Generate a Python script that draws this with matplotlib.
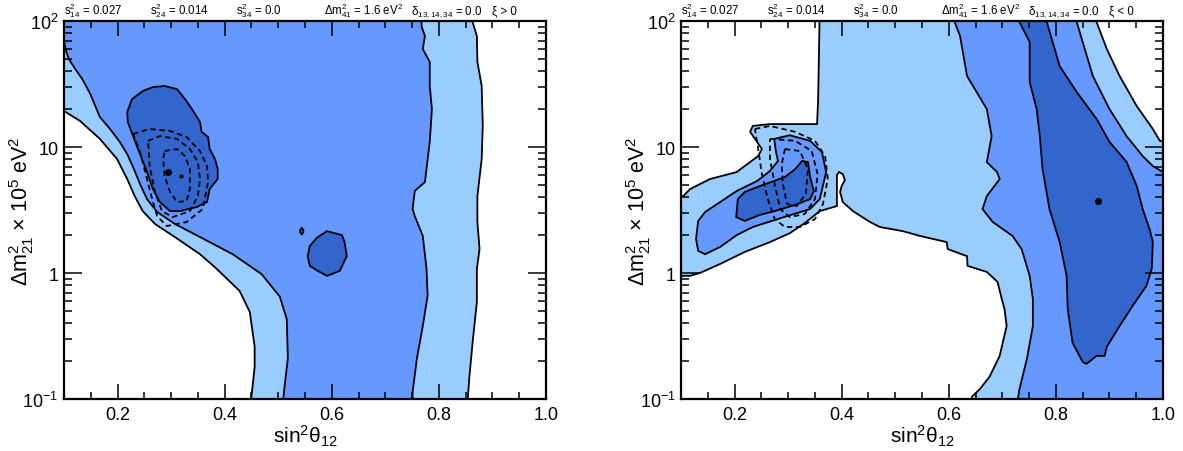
import matplotlib
matplotlib.use("Agg")
import matplotlib.pyplot as plt
from matplotlib.ticker import FixedLocator, FixedFormatter, MultipleLocator, LogLocator, NullFormatter

plt.rcParams['font.family'] = ['Liberation Sans', 'DejaVu Sans']
plt.rcParams['mathtext.fontset'] = 'custom'
plt.rcParams['mathtext.rm'] = 'Liberation Sans'
plt.rcParams['mathtext.it'] = 'Liberation Sans:italic'
plt.rcParams['mathtext.bf'] = 'Liberation Sans:bold'

# colours of the 3, 2, 1 sigma regions
c_light = '#99ccff'
c_mid = '#6699ff'
c_dark = '#3366cc'

# ---------------- data: contour boundaries (sin^2 theta12, dm2_21 [1e-5 eV^2]) ----------------
# left panel (xi > 0)
left_3sig = [(0.08, 200), (0.08, 19.3), (0.100, 19.3), (0.130, 16.1), (0.167, 11.6), (0.199, 8.04),
             (0.218, 5.57), (0.232, 4.08), (0.247, 3.10), (0.270, 2.45), (0.307, 1.93), (0.354, 1.41),
             (0.385, 1.08), (0.428, 0.72), (0.447, 0.49), (0.456, 0.26), (0.456, 0.18), (0.451, 0.114),
             (0.447, 0.08), (0.854, 0.08), (0.854, 0.1), (0.857, 0.15), (0.863, 0.28), (0.871, 0.59),
             (0.871, 1.08), (0.876, 1.55), (0.872, 2.54), (0.872, 4.08), (0.880, 8.04), (0.882, 14.7),
             (0.880, 30.5), (0.872, 47.3), (0.871, 76), (0.863, 98), (0.863, 200)]
left_2sig = [(0.08, 200), (0.08, 72), (0.100, 69.3), (0.104, 57.8), (0.109, 49.9), (0.121, 41.6),
             (0.134, 34.7), (0.149, 26.4), (0.167, 17.3), (0.186, 13.9), (0.204, 11.0), (0.218, 8.79),
             (0.229, 6.93), (0.242, 5.08), (0.255, 3.86), (0.274, 3.05), (0.307, 2.45), (0.354, 1.93),
             (0.415, 1.41), (0.469, 0.98), (0.503, 0.65), (0.516, 0.43), (0.518, 0.21), (0.512, 0.127),
             (0.507, 0.08), (0.751, 0.08), (0.751, 0.114), (0.759, 0.21), (0.770, 0.38), (0.779, 0.66),
             (0.777, 1.08), (0.770, 1.97), (0.755, 2.83), (0.751, 3.22), (0.755, 4.48), (0.774, 5.27),
             (0.783, 11.0), (0.787, 20.0), (0.783, 30.5), (0.783, 47.3), (0.770, 60), (0.774, 76),
             (0.768, 89.6), (0.764, 200)]
left_1sig_a = [(0.227, 24.0), (0.247, 27.8), (0.266, 29.9), (0.288, 30.5), (0.311, 28.8), (0.326, 24.0),
               (0.339, 20.0), (0.354, 15.8), (0.357, 13.2), (0.369, 12.0), (0.372, 9.64), (0.382, 8.04),
               (0.387, 6.68), (0.387, 5.57), (0.372, 4.64), (0.367, 3.66), (0.348, 3.34), (0.316, 3.10),
               (0.298, 3.10), (0.279, 3.66), (0.266, 4.64), (0.255, 6.33), (0.236, 10.2), (0.219, 15.8),
               (0.218, 19.0)]
left_1sig_b = [(0.591, 2.15), (0.619, 2.0), (0.624, 1.76), (0.628, 1.36), (0.621, 1.18), (0.615, 1.04),
               (0.591, 0.95), (0.574, 1.04), (0.559, 1.14), (0.555, 1.36), (0.559, 1.64), (0.572, 1.90)]
left_1sig_c = [(0.544, 2.28), (0.547, 2.2), (0.547, 2.1), (0.544, 2.03), (0.541, 2.1), (0.541, 2.2)]
left_dash = [
    [(0.229, 12.7), (0.260, 13.9), (0.298, 13.4), (0.329, 12.0), (0.354, 9.29), (0.367, 7.06), (0.369, 5.27),
     (0.359, 3.22), (0.329, 2.54), (0.292, 2.36), (0.274, 2.83), (0.266, 3.66), (0.255, 5.57), (0.242, 9.12)],
    [(0.257, 11.2), (0.279, 12.2), (0.311, 11.6), (0.335, 9.64), (0.350, 7.60), (0.354, 5.57), (0.350, 4.08),
     (0.335, 3.10), (0.303, 2.78), (0.283, 3.10), (0.270, 4.40), (0.260, 7.06)],
    [(0.288, 9.29), (0.311, 9.64), (0.326, 8.48), (0.335, 6.68), (0.335, 4.64), (0.329, 3.72), (0.311, 3.66),
     (0.298, 4.40), (0.288, 5.88), (0.285, 8.04)],
]
left_best = (0.294, 6.33)
left_best2 = (0.318, 5.88)

# right panel (xi < 0)
right_3sig = [(0.359, 124), (0.876, 124), (0.876, 98), (0.895, 60), (0.919, 36.6), (0.951, 21.1),
              (0.981, 13.9), (0.994, 11.2), (1.022, 10.8), (1.022, 0.08), (0.643, 0.08), (0.643, 0.104),
              (0.658, 0.120), (0.676, 0.15), (0.695, 0.22), (0.708, 0.38), (0.704, 0.52), (0.699, 0.62),
              (0.691, 0.85), (0.671, 1.02), (0.635, 1.14), (0.634, 1.36), (0.598, 1.55), (0.596, 1.76),
              (0.546, 1.97), (0.514, 2.15), (0.471, 2.32), (0.453, 2.54), (0.421, 3.10), (0.402, 3.66),
              (0.397, 4.40), (0.400, 4.90), (0.406, 5.47), (0.402, 6.10), (0.395, 6.33), (0.391, 6.0),
              (0.391, 3.40), (0.359, 3.10), (0.331, 2.49), (0.303, 2.07), (0.266, 1.76), (0.219, 1.47),
              (0.173, 1.18), (0.135, 1.0), (0.117, 0.95), (0.079, 0.95), (0.079, 4.08), (0.104, 4.08),
              (0.117, 4.64), (0.154, 5.57), (0.204, 6.33), (0.244, 8.48), (0.251, 9.64), (0.229, 13.2),
              (0.234, 14.7), (0.266, 15.2), (0.354, 15.2), (0.356, 24.0)]
right_2sig_a = [(0.611, 124), (0.611, 98), (0.621, 76), (0.634, 36.6), (0.652, 27.3), (0.671, 20.0),
                (0.680, 12.2), (0.671, 7.60), (0.690, 6.33), (0.695, 5.57), (0.671, 4.08), (0.663, 3.22),
                (0.682, 2.54), (0.719, 1.97), (0.736, 1.55), (0.751, 0.95), (0.757, 0.62), (0.757, 0.38),
                (0.746, 0.21), (0.732, 0.120), (0.729, 0.1), (0.729, 0.08), (1.022, 0.08), (1.022, 6.1),
                (1.0, 6.33), (0.981, 7.06), (0.962, 8.48), (0.932, 12.2), (0.900, 20.0), (0.869, 36.6),
                (0.850, 68), (0.839, 98), (0.839, 124)]
right_2sig_b = [(0.132, 2.59), (0.145, 3.05), (0.173, 3.66), (0.204, 4.48), (0.242, 5.37), (0.266, 6.46),
                (0.281, 7.75), (0.277, 9.29), (0.274, 11.6), (0.303, 12.4), (0.341, 11.2), (0.363, 9.12),
                (0.371, 6.33), (0.359, 3.86), (0.341, 3.22), (0.298, 2.83), (0.234, 2.32), (0.204, 2.0),
                (0.173, 1.61), (0.145, 1.41), (0.132, 1.50), (0.128, 1.86)]
right_1sig_a = [(0.732, 124), (0.732, 98), (0.751, 68), (0.751, 32.8), (0.764, 20.0), (0.770, 12.2),
                (0.775, 6.68), (0.788, 3.22), (0.807, 1.76), (0.820, 0.95), (0.822, 0.52), (0.831, 0.28),
                (0.850, 0.197), (0.857, 0.19), (0.876, 0.22), (0.891, 0.22), (0.895, 0.26), (0.919, 0.38),
                (0.943, 0.547), (0.969, 0.789), (0.979, 1.08), (0.981, 1.76), (0.975, 2.23), (0.962, 3.22),
                (0.951, 4.90), (0.932, 7.60), (0.900, 11.0), (0.876, 16.7), (0.839, 27.3), (0.807, 43.9),
                (0.794, 68), (0.783, 98), (0.783, 124)]
right_1sig_b = [(0.203, 2.78), (0.206, 3.86), (0.219, 4.40), (0.247, 4.90), (0.294, 5.78), (0.313, 6.68),
                (0.326, 7.75), (0.337, 7.60), (0.341, 5.78), (0.348, 4.48), (0.341, 3.86), (0.313, 3.47),
                (0.275, 3.10), (0.247, 2.89), (0.219, 2.59)]
right_dash = [
    [(0.238, 13.9), (0.266, 14.7), (0.313, 13.2), (0.350, 11.2), (0.369, 8.48), (0.374, 5.57), (0.365, 3.53),
     (0.350, 2.68), (0.322, 2.32), (0.294, 2.32), (0.275, 2.68), (0.262, 3.86), (0.251, 6.10), (0.244, 9.64)],
    [(0.266, 11.6), (0.313, 11.2), (0.344, 9.29), (0.355, 6.10), (0.350, 3.86), (0.331, 2.94), (0.303, 2.78),
     (0.285, 3.22), (0.275, 5.08), (0.266, 8.04)],
    [(0.294, 9.64), (0.322, 9.29), (0.337, 6.68), (0.333, 4.24), (0.316, 3.40), (0.298, 3.53), (0.290, 5.08),
     (0.288, 7.33)],
]
right_best = (0.878, 3.72)

# ticks / texts
x_major = [0.2, 0.4, 0.6, 0.8, 1.0]
x_labels = ['0.2', '0.4', '0.6', '0.8', '1.0']
y_major = [0.1, 1, 10, 100]
y_labels = [r'$\mathregular{10^{-1}}$', '1', '10', r'$\mathregular{10^{2}}$']
header_common = [r'$\mathregular{s^2_{14}}$ = 0.027', r'$\mathregular{s^2_{24}}$ = 0.014',
                 r'$\mathregular{s^2_{34}}$ = 0.0', r'$\mathregular{Δm^2_{41}}$ = 1.6 eV$\mathregular{^2}$',
                 r'$\mathregular{δ_{13,14,34}}$ = 0.0']
xi_text = ['ξ > 0', 'ξ < 0']


def fill_poly(ax, pts, color):
    xs, ys = zip(*pts)
    ax.fill(xs, ys, facecolor=color, edgecolor='black', lw=1.3, zorder=1)


def dash_poly(ax, pts):
    xs, ys = zip(*pts)
    xs = list(xs) + [xs[0]]
    ys = list(ys) + [ys[0]]
    ax.plot(xs, ys, color='black', lw=1.3, ls=(0, (3, 2)), zorder=2)


def style_axes(ax):
    ax.set_xlim(0.1, 1.0)
    ax.set_yscale('log')
    ax.set_ylim(0.1, 100)
    ax.xaxis.set_major_locator(FixedLocator(x_major))
    ax.xaxis.set_major_formatter(FixedFormatter(x_labels))
    ax.xaxis.set_minor_locator(MultipleLocator(0.05))
    ax.yaxis.set_major_locator(FixedLocator(y_major))
    ax.yaxis.set_major_formatter(FixedFormatter(y_labels))
    ax.yaxis.set_minor_locator(LogLocator(base=10, subs=range(2, 10), numticks=20))
    ax.yaxis.set_minor_formatter(NullFormatter())
    ax.tick_params(which='both', direction='in', top=True, right=True, width=1.1, colors='black')
    ax.tick_params(axis='x', which='major', length=11, labelsize=13, pad=5)
    ax.tick_params(axis='x', which='minor', length=5)
    ax.tick_params(axis='y', which='major', length=13, labelsize=13, pad=4)
    ax.tick_params(axis='y', which='minor', length=6)
    for s in ax.spines.values():
        s.set_linewidth(1.6)
        s.set_zorder(5)
    ax.set_xlabel(r'$\mathregular{sin^2θ_{12}}$', fontsize=15)
    ax.xaxis.set_label_coords(0.5, -0.064)
    ax.set_ylabel(r'$\mathregular{Δm^2_{21}}$ × 10$\mathregular{^5}$ eV$\mathregular{^2}$', fontsize=15.5)
    ax.yaxis.set_label_coords(-0.058, 0.5)


fig = plt.figure(figsize=(11.83, 4.52), dpi=100)
ax1 = fig.add_axes([0.0541, 0.1150, 0.4074, 0.8363])
ax2 = fig.add_axes([0.5757, 0.1150, 0.4074, 0.8363])

# left panel
fill_poly(ax1, left_3sig, c_light)
fill_poly(ax1, left_2sig, c_mid)
fill_poly(ax1, left_1sig_a, c_dark)
fill_poly(ax1, left_1sig_b, c_dark)
fill_poly(ax1, left_1sig_c, c_dark)
for d in left_dash:
    dash_poly(ax1, d)
ax1.plot(*left_best, 'o', color='black', ms=4, zorder=3)
ax1.plot(*left_best2, 'o', color='black', ms=2, zorder=3)

# right panel
fill_poly(ax2, right_3sig, c_light)
fill_poly(ax2, right_2sig_a, c_mid)
fill_poly(ax2, right_2sig_b, c_mid)
fill_poly(ax2, right_1sig_a, c_dark)
fill_poly(ax2, right_1sig_b, c_dark)
for d in right_dash:
    dash_poly(ax2, d)
ax2.plot(*right_best, 'o', color='black', ms=4, zorder=3)

hx = [0.0, 0.178, 0.357, 0.539, 0.720]
for ax, xi in zip([ax1, ax2], xi_text):
    style_axes(ax)
    for x, t in zip(hx, header_common):
        ax.text(x, 1.02, t, transform=ax.transAxes, fontsize=8.3, ha='left', va='baseline')
    ax.text(0.888, 1.02, xi, transform=ax.transAxes, fontsize=8.3, ha='left', va='baseline')

fig.savefig('out.png', dpi=100)
